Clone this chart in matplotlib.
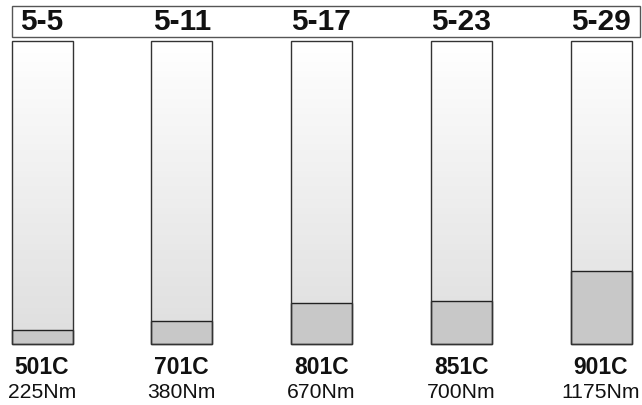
import matplotlib
matplotlib.use('Agg')
import matplotlib.pyplot as plt
import numpy as np
from matplotlib.colors import LinearSegmentedColormap
from matplotlib.patches import Rectangle
import matplotlib.transforms as mtransforms

dates = ['5-5', '5-11', '5-17', '5-23', '5-29']
models = ['501C', '701C', '801C', '851C', '901C']
torque = [225, 380, 670, 700, 1175]
capacity = 4900  # full bar height in Nm

plt.rcParams['font.family'] = ['Liberation Sans', 'DejaVu Sans']

fig = plt.figure(figsize=(6.42, 4.05), dpi=100)
ax = fig.add_axes([0, 0, 1, 1])
ax.axis('off')

# pixel layout -> data limits
W, H = 642, 405
step = 139.75
x0 = 42
nm_per_px = capacity / 303
base = 61
bw = 61 / step

grad = LinearSegmentedColormap.from_list('g', ['#ffffff', '#dedede'])
x = np.arange(len(models))
for i in x:
    ax.imshow(np.linspace(0, 1, 100).reshape(-1, 1), cmap=grad, aspect='auto',
              extent=(i - bw / 2, i + bw / 2, 0, capacity), zorder=1)
ax.bar(x, torque, width=bw, color='#c8c8c8', edgecolor='#222222', linewidth=1, zorder=2)
ax.bar(x, [capacity] * len(x), width=bw, fill=False, edgecolor='#333333', linewidth=1, zorder=3)
ax.set_xlim(-x0 / step, (W - x0) / step)
ax.set_ylim(-base * nm_per_px, (H - base) * nm_per_px)

# header box
ax.add_patch(Rectangle((12 / W, 1 - 36.5 / H), 628 / W, 30.5 / H, transform=ax.transAxes,
                       fill=False, edgecolor='#555555', linewidth=1, zorder=4))
trans = mtransforms.blended_transform_factory(ax.transData, ax.transAxes)
for i, d in enumerate(dates):
    ax.text(i, 1 - 22 / H, d, transform=trans, ha='center', va='center',
            fontsize=21.5, fontweight='bold', color='#111111')
    ax.text(i, 1 - 368 / H, models[i], transform=trans, ha='center', va='center',
            fontsize=16.5, fontweight='bold', color='#111111')
    ax.text(i, 1 - 393 / H, f'{torque[i]}Nm', transform=trans, ha='center', va='center',
            fontsize=15.2, color='#111111')

fig.savefig('out.png', dpi=100, facecolor='white')
